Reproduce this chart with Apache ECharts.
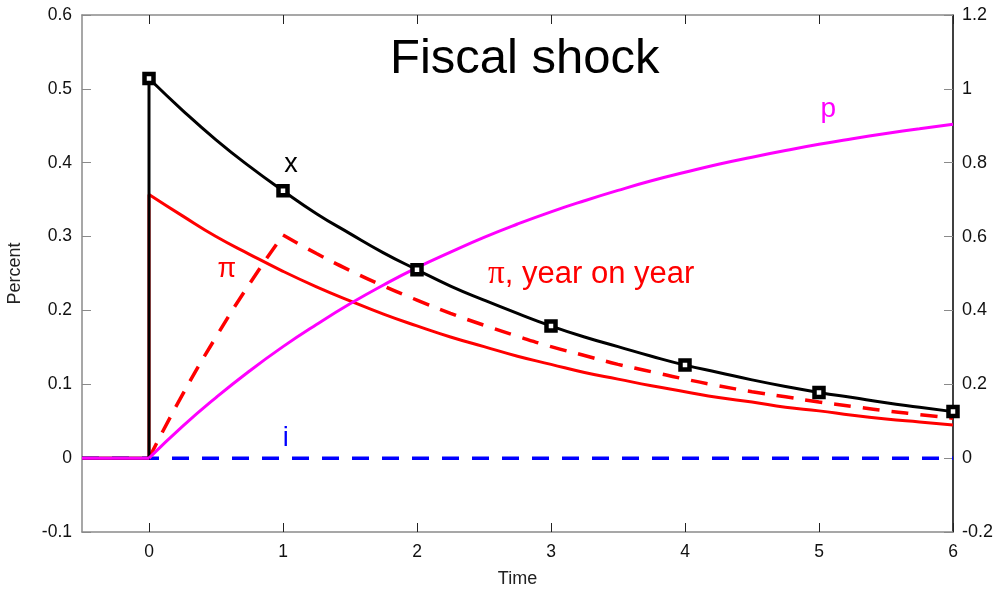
<!DOCTYPE html>
<html>
<head>
<meta charset="utf-8">
<script src="https://cdn.jsdelivr.net/npm/echarts@6/dist/echarts.min.js"></script>
<style>
  html, body { margin: 0; padding: 0; background: #fff; }
  #chart { width: 993px; height: 592px; }
</style>
</head>
<body>
<div id="chart"></div>
<script>
// Time grid for the responses (years after the shock)
const times = [0, 0.25, 0.5, 0.75, 1, 1.25, 1.5, 1.75, 2, 2.25, 2.5, 2.75, 3,
               3.25, 3.5, 3.75, 4, 4.25, 4.5, 4.75, 5, 5.25, 5.5, 5.75, 6];

// Output gap x (percent, left axis)
const outputX = [0.514, 0.471, 0.431, 0.395, 0.362, 0.331, 0.304, 0.278, 0.255,
                 0.233, 0.214, 0.196, 0.179, 0.164, 0.151, 0.138, 0.126, 0.116,
                 0.106, 0.097, 0.089, 0.082, 0.075, 0.069, 0.063];

// Inflation pi (percent, left axis)
const inflation = [0.357, 0.328, 0.300, 0.276, 0.253, 0.232, 0.213, 0.195, 0.179,
                   0.164, 0.151, 0.138, 0.127, 0.116, 0.107, 0.098, 0.090, 0.082,
                   0.076, 0.069, 0.064, 0.058, 0.053, 0.049, 0.045];

// Year-on-year inflation (percent, left axis)
const inflationYoY = [0.000, 0.086, 0.164, 0.236, 0.302, 0.277, 0.254, 0.233, 0.214,
                      0.196, 0.180, 0.165, 0.151, 0.139, 0.127, 0.117, 0.107, 0.098,
                      0.090, 0.083, 0.076, 0.070, 0.064, 0.059, 0.054];

// Price level p (percent, right axis)
const priceLevel = [0.000, 0.086, 0.164, 0.236, 0.302, 0.362, 0.418, 0.469, 0.516,
                    0.558, 0.598, 0.634, 0.667, 0.697, 0.725, 0.751, 0.774, 0.796,
                    0.815, 0.833, 0.850, 0.865, 0.879, 0.892, 0.904];

// Nominal interest rate i (percent, left axis)
const interestI = [0, 0];
const interestTimes = [-0.5, 6];

// Pre-shock period start
const preShock = -0.5;

// Tick labels
const xTicks = [0, 1, 2, 3, 4, 5, 6];
const leftTicks = ['-0.1', '0', '0.1', '0.2', '0.3', '0.4', '0.5', '0.6'];
const rightTicks = ['-0.2', '0', '0.2', '0.4', '0.6', '0.8', '1', '1.2'];

const pair = (ts, vs) => ts.map((t, k) => [t, vs[k]]);

const xPairs = pair(times, outputX);
const piPairs = pair(times, inflation);
const yoyPairs = pair(times, inflationYoY);
const pPairs = pair(times, priceLevel);
const markerPairs = xPairs.filter(d => Number.isInteger(d[0]));
const yoyRise = yoyPairs.filter(d => d[0] <= 1);
const yoyDecay = yoyPairs.filter(d => d[0] >= 1);

const FONT = 'Liberation Sans, Arial, Helvetica, sans-serif';
const GRAY = '#8a8a8a';

// Text annotation anchored at a data point
function label(text, t, v, rich, color, size) {
  return {
    type: 'scatter', yAxisIndex: 0, symbol: 'circle', symbolSize: 1, silent: true, z: 20,
    itemStyle: { color: 'rgba(255,255,255,0)', opacity: 1 },
    data: [[t, v]],
    label: {
      show: true, position: 'inside', formatter: text, opacity: 1,
      color: color, fontSize: size, fontFamily: FONT, rich: rich
    }
  };
}

function curve(name, data, axis, color, width, dash, z) {
  return {
    type: 'line', name: name, yAxisIndex: axis, symbol: 'none', z: z,
    smooth: 0.5,
    data: data,
    lineStyle: { color: color, width: width, type: dash || 'solid' }
  };
}

function segment(name, data, axis, color, width, z) {
  return {
    type: 'line', name: name, yAxisIndex: axis, symbol: 'none', z: z,
    data: data,
    lineStyle: { color: color, width: width }
  };
}

const chart = echarts.init(document.getElementById('chart'), null, { renderer: 'canvas' });

chart.setOption({
  animation: false,
  backgroundColor: '#ffffff',
  title: {
    text: 'Fiscal shock',
    left: 385, top: 30,
    textStyle: { fontFamily: FONT, fontSize: 49, fontWeight: 'normal', color: '#000' }
  },
  grid: { left: 82, right: 40, top: 15, bottom: 60, containLabel: false, outerBoundsMode: 'none' },
  xAxis: [{
    type: 'value', min: -0.5, max: 6,
    name: 'Time', nameLocation: 'middle', nameGap: 38,
    nameTextStyle: { fontFamily: FONT, fontSize: 18, color: '#222' },
    axisLine: { show: true, onZero: false, lineStyle: { color: GRAY, width: 1.5 } },
    axisTick: { show: true, inside: true, length: 9, customValues: xTicks, lineStyle: { color: '#222', width: 1 } },
    axisLabel: { customValues: xTicks, margin: 11, fontFamily: FONT, fontSize: 17.5, color: '#111',
                 formatter: v => String(v) },
    splitLine: { show: false }
  }, {
    type: 'value', min: -0.5, max: 6, position: 'top',
    axisLine: { show: true, onZero: false, lineStyle: { color: GRAY, width: 1.5 } },
    axisTick: { show: true, inside: true, length: 9, customValues: xTicks, lineStyle: { color: '#222', width: 1 } },
    axisLabel: { show: false },
    splitLine: { show: false }
  }],
  yAxis: [{
    type: 'value', min: -0.1, max: 0.6, interval: 0.1, position: 'left',
    name: 'Percent', nameLocation: 'middle', nameGap: 58, nameRotate: 90,
    nameTextStyle: { fontFamily: FONT, fontSize: 18, color: '#222' },
    axisLine: { show: true, onZero: false, lineStyle: { color: GRAY, width: 1.5 } },
    axisTick: { show: true, inside: true, length: 9, lineStyle: { color: GRAY, width: 1 } },
    axisLabel: { margin: 10, fontFamily: FONT, fontSize: 17.5, color: '#111',
                 formatter: v => leftTicks[Math.round((v + 0.1) * 10)] },
    splitLine: { show: false }
  }, {
    type: 'value', min: -0.2, max: 1.2, interval: 0.2, position: 'right',
    axisLine: { show: true, onZero: false, lineStyle: { color: '#000', width: 1.5 } },
    axisTick: { show: true, inside: true, length: 9, lineStyle: { color: GRAY, width: 1 } },
    axisLabel: { margin: 9, fontFamily: FONT, fontSize: 18, color: '#111',
                 formatter: v => rightTicks[Math.round((v + 0.2) * 5)] },
    splitLine: { show: false }
  }],
  series: [
    // i: flat at zero throughout
    {
      type: 'line', name: 'i', yAxisIndex: 0, symbol: 'none', z: 2,
      data: pair(interestTimes, interestI),
      lineStyle: { color: '#0000ff', width: 3.5, type: [17, 13] }
    },
    // pi: jumps at the shock, then decays
    segment('pi-jump', [[preShock, 0], [0, 0], piPairs[0]], 0, '#ff0000', 3, 3),
    curve('pi', piPairs, 0, '#ff0000', 3, null, 3),
    // pi year on year
    curve('yoy-rise', yoyRise, 0, '#ff0000', 3.5, [17, 12], 4),
    curve('yoy-decay', yoyDecay, 0, '#ff0000', 3.5, [17, 12], 4),
    // x: jumps at the shock, then decays
    segment('x-jump', [[preShock, 0], [0, 0], xPairs[0]], 0, '#000000', 3, 5),
    curve('x', xPairs, 0, '#000000', 3, null, 5),
    // p: price level on right axis
    segment('p-pre', [[preShock, 0], pPairs[0]], 1, '#ff00ff', 3, 6),
    curve('p', pPairs, 1, '#ff00ff', 3, null, 6),
    // x markers at whole years
    {
      type: 'scatter', name: 'x-marks', yAxisIndex: 0, symbol: 'rect', symbolSize: 9, z: 8,
      data: markerPairs,
      itemStyle: { color: '#ffffff', borderColor: '#000', borderWidth: 4.5, opacity: 1 }
    },
    label('x', 1.06, 0.398, null, '#000', 27),
    label('π', 0.58, 0.255, null, '#ff0000', 27),
    label('{g|π}, year on year', 3.3, 0.249,
          { g: { fontFamily: 'Liberation Serif, DejaVu Serif, serif', fontSize: 33, color: '#ff0000' } },
          '#ff0000', 31),
    label('p', 5.07, 0.472, null, '#ff00ff', 28),
    label('i', 1.02, 0.027, null, '#0000ff', 27)
  ]
});
</script>
</body>
</html>
